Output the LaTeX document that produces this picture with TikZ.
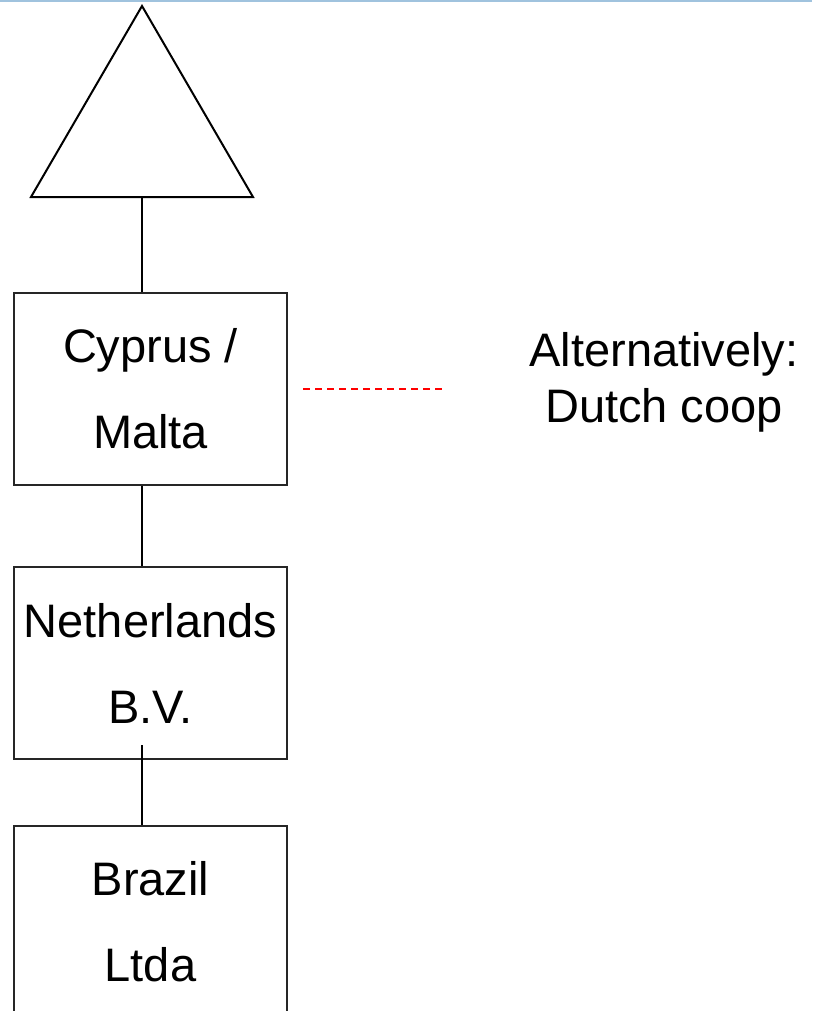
\documentclass[tikz,border=0pt]{standalone}
\usepackage{fontspec}
\setmainfont{Liberation Sans}
\usetikzlibrary{calc,positioning}

\definecolor{topbar}{RGB}{160,195,222}

\tikzset{
	entity/.style={draw=black!85, line width=2pt, minimum width=273pt, minimum height=192pt,
		align=center, inner sep=0pt, font=\fontsize{47}{86}\selectfont},
	link/.style={draw=black, line width=2.5pt},
	altlink/.style={draw=red, line width=1.5pt, dash pattern=on 7pt off 5pt},
	note/.style={align=center, inner sep=0pt, font=\fontsize{47}{56}\selectfont}
}

\begin{document}
\begin{tikzpicture}[x=1pt,y=-1pt]
\useasboundingbox (0,0) rectangle (812,1011);
\draw[topbar, line width=2pt] (0,1) -- (812,1);		%%%%	borde de arriba

%%%%%%%%%%%%%%%%%%%%%%%%%%%%%%%%%%%%%%%%%%%%%%%% 	TRIANGULO (tenedores)
\coordinate (apex) at (142,6);
\coordinate (tribase) at (142,197);
\draw[black, line width=2pt, line join=miter]
(apex) -- (253,197) -- (31,197) -- cycle;

%%%%%%%%%%%%%%%%%%%%%%%%%%%%%%%%%%%%%%%%%%%%%%%% 	ENTIDADES
\node[entity] (cyprus) at (150.5,389) {Cyprus /\\Malta};
\node[entity, below=80pt of cyprus] (nl) {Netherlands\\B.V.};
\node[entity, below=65pt of nl] (brazil) {Brazil\\Ltda};

%%%%%%%%%%%%%%%%%%%%%%%%%%%%%%%%%%%%%%%%%%%%%%%% 	LINEAS
\draw[link] (tribase) -- (apex |- cyprus.north);
\draw[link] (apex |- cyprus.south) -- (apex |- nl.north);
\draw[link] ($(apex |- nl.south)+(0,-15)$) -- (apex |- brazil.north);	%%%%	empieza dentro de la caja

%%%%%%%%%%%%%%%%%%%%%%%%%%%%%%%%%%%%%%%%%%%%%%%% 	ALTERNATIVA
\node[note] (alt) at (664,382) {Alternatively:\\Dutch coop};
\coordinate (dashend) at (443,389);
\draw[altlink] ($(cyprus.east)+(15,0)$) -- (dashend);

\end{tikzpicture}
\end{document}
